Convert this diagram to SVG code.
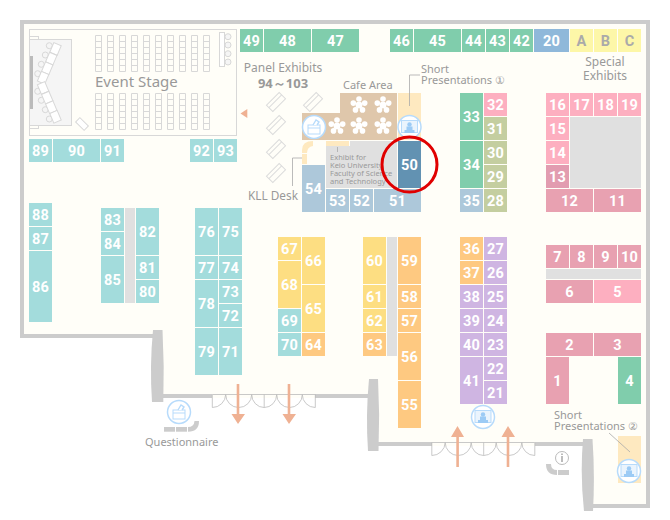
<svg xmlns="http://www.w3.org/2000/svg" width="670" height="520" viewBox="0 0 670 520">
<defs>
<style>
.b text{font:700 14.500px Roboto,"Liberation Sans",sans-serif;fill:#fff;text-anchor:middle;letter-spacing:.2px}
.l{font:11px "Noto Sans","Open Sans",sans-serif;fill:#999}
.teal{fill:#a3dcdc}.green{fill:#80cdac}.slate{fill:#adc8da}.yel{fill:#fdde82}.org{fill:#fec981}.pur{fill:#cfb5e2}.pink{fill:#fdafc0}.rose{fill:#e8a1b1}.oli{fill:#c4cea0}.blue{fill:#8fb8da}.lem{fill:#fdf7a8}.dark{fill:#6292b2}.drose{fill:#e29cb0}
.g{fill:#e0e0e0}.w{fill:#ccc}.bei{fill:#fee9c0}.cafe{fill:#dfc7ab}
.st{fill:none;stroke:#d8d8d8;stroke-width:1}
.door{fill:none;stroke:#bbb;stroke-width:.8}
.ln{fill:none;stroke:#aaa;stroke-width:.8}
.arr{fill:#efb193}
</style>
<g id="doors">
<path class="door" d="M212.300 394.500H315.300M212.300 394.500V407.500A13.400 13.400 0 0 0 225.700 394.500A13 13 0 0 0 251.700 394.500A12.500 13 0 0 0 264.200 407.500V394.500M264.200 407.500A12.500 13 0 0 0 276.700 394.500A12.800 13 0 0 0 302.300 394.500A13 13 0 0 0 315.300 407.500V394.500"/>
</g>
<g id="pres">
<circle r="11.500" fill="#fff" stroke="#b7dbfb" stroke-width="1.500"/>
<rect x="-8" y="-6.500" width="16" height="12" fill="#eaf4fd" stroke="#b7dbfb"/>
<circle cy="-2.500" r="2.200" fill="#9ccbf5"/>
<path d="M-3-.5H3V3H5V6H-5V3H-3Z" fill="#9ccbf5"/>
</g>
<g id="box">
<circle r="11.500" fill="#fff" stroke="#b7dbfb" stroke-width="1.500"/>
<rect x="-6" y="-2" width="12" height="9" fill="#fff" stroke="#b7dbfb"/>
<path d="M-6 1H6" stroke="#b7dbfb"/>
<path d="M-1-2 2-7 5-5 3-2" fill="#fff" stroke="#b7dbfb" stroke-width="1.400"/>
</g>
<g id="star" fill="#fff">
<circle r="3.500"/><circle cy="-6" r="2.800"/><circle cx="5.700" cy="-1.900" r="2.800"/><circle cx="3.500" cy="4.900" r="2.800"/><circle cx="-3.500" cy="4.900" r="2.800"/><circle cx="-5.700" cy="-1.900" r="2.800"/>
</g>
<g id="tile" transform="rotate(-45)" fill="#fffef8" stroke="#dcdcdc">
<rect x="-9" y="-4.500" width="18" height="9"/><path d="M-9-1H9" fill="none"/>
</g>
<path id="seats" fill="none" stroke="#d8d8d8" d="M.5.5h6v36h-6zM.5 6.500h6M.5 12.500h6M.5 18.500h6M.5 24.500h6M.5 30.500h6"/>
<g id="col"><use href="#seats" y="35"/><use href="#seats" y="93"/></g>
</defs>

<rect width="670" height="520" fill="#fff"/>
<g id="floor">
<path d="M20 20H650V508H593V446H379V398H163V338H20Z" fill="#fffef8"/>
<path class="w" d="M20 20H650V508H590V504H646V24H24V334H155V338H20Z"/>
<rect class="w" x="160" y="394" width="52" height="4"/>
<rect class="w" x="315" y="394" width="56" height="4"/>
<rect class="w" x="376" y="442" width="56" height="4"/>
<rect class="w" x="535" y="442" width="49" height="4"/>
<path class="w" d="M153 330H162.500Q164.500 366 163.300 402H152Q149.500 366 153 330Z"/>
<path class="w" d="M369 379H378Q380 415 378.500 451H368Q365.500 415 369 379Z"/>
<path class="w" d="M583 439H592.500Q595 475 593 511H584Q580 475 583 439Z"/>
<use href="#doors"/>
<use href="#doors" transform="translate(219.500 48)"/>
</g>

<g id="event-stage">
<rect x="29.500" y="29.500" width="207" height="106" class="st"/>
<rect x="29.500" y="39.500" width="42" height="86" fill="#f5f5f5" stroke="#d8d8d8"/>
<rect x="29.500" y="36.500" width="9" height="3" class="st"/>
<rect x="29.500" y="125.500" width="9" height="3" class="st"/>
<rect x="30" y="56" width="3" height="53" fill="#bbb"/>
<g fill="#f5f5f5" stroke="#d8d8d8">
<circle cx="49.300" cy="45.700" r="3"/><circle cx="45.300" cy="55" r="3"/><circle cx="41.300" cy="64.300" r="3"/><circle cx="37.700" cy="73.700" r="3"/>
<circle cx="37.700" cy="91.300" r="3"/><circle cx="41.300" cy="100.300" r="3"/><circle cx="45.300" cy="109.700" r="3"/><circle cx="49.300" cy="119" r="3"/>
<circle cx="228" cy="36.700" r="3"/><circle cx="228" cy="45" r="3"/><circle cx="228" cy="53.700" r="3"/><circle cx="228" cy="62" r="3"/>
</g>
<g fill="#fff" stroke="#d8d8d8">
<rect x="-4" y="-5.200" width="8" height="10.400" transform="translate(55.500 49) rotate(23)"/>
<rect x="-4" y="-5.200" width="8" height="10.400" transform="translate(51.300 58.600) rotate(23)"/>
<rect x="-4" y="-5.200" width="8" height="10.400" transform="translate(47.200 68.200) rotate(23)"/>
<rect x="-4" y="-5.200" width="8" height="10.400" transform="translate(43.100 77.800) rotate(23)"/>
<rect x="-4" y="-5.200" width="8" height="10.400" transform="translate(43.100 88) rotate(-23)"/>
<rect x="-4" y="-5.200" width="8" height="10.400" transform="translate(47.200 97.600) rotate(-23)"/>
<rect x="-4" y="-5.200" width="8" height="10.400" transform="translate(51.300 107.200) rotate(-23)"/>
<rect x="-4" y="-5.200" width="8" height="10.400" transform="translate(55.500 116.800) rotate(-23)"/>
<rect x="219.500" y="32.500" width="5" height="34"/>
<rect x="-6" y="-3" width="12" height="6" transform="translate(82 124) rotate(45)"/>
</g>
<use href="#col" x="95"/><use href="#col" x="107"/><use href="#col" x="119"/><use href="#col" x="131"/><use href="#col" x="143"/><use href="#col" x="155"/><use href="#col" x="167"/><use href="#col" x="179"/><use href="#col" x="191"/><use href="#col" x="203"/>
<text class="l" x="95" y="87" style="font-size:15px">Event Stage</text>
</g>

<g id="areas">
<rect class="g" x="125" y="208" width="10" height="95"/>
<rect class="g" x="387" y="237" width="10" height="119"/>
<rect class="g" x="570" y="117" width="71" height="71"/>
<rect class="g" x="546" y="269" width="95" height="10"/>
<path class="g" d="M326 146H350V141H397V188H326Z"/>
<path id="cafe" class="cafe" d="M340 93H397V140H302V113H340Z"/>
<rect class="bei" x="398" y="93" width="23" height="47"/>
<rect class="bei" x="326" y="141" width="23" height="5"/>
<path class="bei" d="M302 153V150Q302 141 313 141V146Q307 147 307 153ZM302 154H307V164H302Z"/>
<rect class="bei" x="618" y="436" width="23" height="47"/>
<use href="#star" x="359" y="105"/><use href="#star" x="383" y="105"/>
<use href="#star" x="337" y="126"/><use href="#star" x="359" y="126"/><use href="#star" x="383" y="126"/>
<use href="#box" x="314" y="127"/><use href="#pres" x="409.500" y="127"/>
<use href="#pres" x="483" y="417"/><use href="#pres" x="629" y="471"/>
<use href="#box" x="179" y="412"/>
<use href="#tile" x="276" y="102"/><use href="#tile" x="313" y="102"/><use href="#tile" x="276" y="125"/><use href="#tile" x="276" y="149"/><use href="#tile" x="276" y="173"/>
<path class="arr" d="M240.500 113.500 247.300 109V118Z"/>
<g class="w">
<rect x="164" y="427" width="11" height="4.700"/><rect x="176" y="427" width="11" height="4.700"/>
<path d="M188 431.700V427Q194 427 194.500 421H199Q199 431.700 188 431.700Z"/>
<rect x="558" y="470" width="11" height="5"/>
<path d="M557 475V470Q551 470 551 464H546Q546 475 557 475Z"/>
</g>
<circle cx="562" cy="458" r="6.500" fill="#fff" stroke="#bbb"/>
<path d="M562 456V462M562 453.500V455" stroke="#999" stroke-width="1.300"/>
</g>

<g id="connectors">
<path class="ln" d="M420 75H409.500V106"/>
<path class="ln" d="M302 158H292.500V186"/>
<path class="ln" d="M337.500 147V152"/>
<path class="ln" d="M609 433 630 452"/>
<path class="arr" d="M236.700 384H239.300V414H245L238 424 231.500 414H236.700Z"/>
<path class="arr" d="M287.700 384H290.300V414H296L289 424 282.500 414H287.700Z"/>
<path class="arr" d="M456.300 467H458.900V437H464L457.500 426 451 437H456.300Z"/>
<path class="arr" d="M506.700 467H509.300V437H515L508 426 501.500 437H506.700Z"/>
</g>

<g id="labels">
<text class="l" x="283" y="72" text-anchor="middle" style="font-size:12px">Panel Exhibits</text>
<text class="l" x="283" y="88" text-anchor="middle" style="font-size:13px;font-weight:700">94～103</text>
<text class="l" x="343" y="89">Cafe Area</text>
<text class="l" x="421" y="73">Short</text>
<text class="l" x="421" y="84">Presentations ①</text>
<text class="l" x="605" y="66" text-anchor="middle" style="font-size:12px">Special</text>
<text class="l" x="605" y="80" text-anchor="middle" style="font-size:12px">Exhibits</text>
<text class="l" x="248" y="200" style="font-size:11.800px">KLL Desk</text>
<text class="l" x="145" y="446">Questionnaire</text>
<text class="l" x="554" y="419">Short</text>
<text class="l" x="554" y="430">Presentations ②</text>
<g class="l" style="font-size:7.500px">
<text x="330" y="160">Exhibit for</text>
<text x="330" y="168">Keio University</text>
<text x="330" y="176">Faculty of Science</text>
<text x="330" y="184">and Technology</text>
</g>
</g>

<g id="n49" class="b"><rect class="green" x="240" y="29" width="23" height="23"/><text x="251.500" y="46">49</text></g>
<g id="n48" class="b"><rect class="green" x="264" y="29" width="47" height="23"/><text x="287.500" y="46">48</text></g>
<g id="n47" class="b"><rect class="green" x="312" y="29" width="47" height="23"/><text x="335.500" y="46">47</text></g>
<g id="n46" class="b"><rect class="green" x="390" y="29" width="23" height="23"/><text x="401.500" y="46">46</text></g>
<g id="n45" class="b"><rect class="green" x="414" y="29" width="47" height="23"/><text x="437.500" y="46">45</text></g>
<g id="n44" class="b"><rect class="green" x="462" y="29" width="23" height="23"/><text x="473.500" y="46">44</text></g>
<g id="n43" class="b"><rect class="green" x="486" y="29" width="23" height="23"/><text x="497.500" y="46">43</text></g>
<g id="n42" class="b"><rect class="green" x="510" y="29" width="23" height="23"/><text x="521.500" y="46">42</text></g>
<g id="n20" class="b"><rect class="blue" x="534" y="29" width="35" height="23"/><text x="551.500" y="46">20</text></g>
<g id="nA" class="b"><rect class="lem" x="570" y="29" width="23" height="23"/><text x="581.500" y="46" style="fill:#aaa">A</text></g>
<g id="nB" class="b"><rect class="lem" x="594" y="29" width="23" height="23"/><text x="605.500" y="46" style="fill:#aaa">B</text></g>
<g id="nC" class="b"><rect class="lem" x="618" y="29" width="23" height="23"/><text x="629.500" y="46" style="fill:#aaa">C</text></g>
<g id="n89" class="b"><rect class="teal" x="29" y="139" width="23" height="23"/><text x="40.500" y="156">89</text></g>
<g id="n90" class="b"><rect class="teal" x="53" y="139" width="47" height="23"/><text x="76.500" y="156">90</text></g>
<g id="n91" class="b"><rect class="teal" x="101" y="139" width="23" height="23"/><text x="112.500" y="156">91</text></g>
<g id="n92" class="b"><rect class="teal" x="190" y="139" width="23" height="23"/><text x="201.500" y="156">92</text></g>
<g id="n93" class="b"><rect class="teal" x="214" y="139" width="23" height="23"/><text x="225.500" y="156">93</text></g>
<g id="n88" class="b"><rect class="teal" x="29" y="203" width="23" height="23"/><text x="40.500" y="220">88</text></g>
<g id="n87" class="b"><rect class="teal" x="29" y="227" width="23" height="23"/><text x="40.500" y="244">87</text></g>
<g id="n86" class="b"><rect class="teal" x="29" y="251" width="23" height="71"/><text x="40.500" y="292">86</text></g>
<g id="n83" class="b"><rect class="teal" x="101" y="208" width="23" height="23"/><text x="112.500" y="225">83</text></g>
<g id="n84" class="b"><rect class="teal" x="101" y="232" width="23" height="23"/><text x="112.500" y="249">84</text></g>
<g id="n85" class="b"><rect class="teal" x="101" y="256" width="23" height="47"/><text x="112.500" y="285">85</text></g>
<g id="n82" class="b"><rect class="teal" x="136" y="208" width="23" height="47"/><text x="147.500" y="237">82</text></g>
<g id="n81" class="b"><rect class="teal" x="136" y="256" width="23" height="23"/><text x="147.500" y="273">81</text></g>
<g id="n80" class="b"><rect class="teal" x="136" y="280" width="23" height="23"/><text x="147.500" y="297">80</text></g>
<g id="n76" class="b"><rect class="teal" x="195" y="208" width="23" height="47"/><text x="206.500" y="237">76</text></g>
<g id="n75" class="b"><rect class="teal" x="219" y="208" width="23" height="47"/><text x="230.500" y="237">75</text></g>
<g id="n77" class="b"><rect class="teal" x="195" y="256" width="23" height="23"/><text x="206.500" y="273">77</text></g>
<g id="n74" class="b"><rect class="teal" x="219" y="256" width="23" height="23"/><text x="230.500" y="273">74</text></g>
<g id="n78" class="b"><rect class="teal" x="195" y="280" width="23" height="47"/><text x="206.500" y="309">78</text></g>
<g id="n73" class="b"><rect class="teal" x="219" y="280" width="23" height="23"/><text x="230.500" y="297">73</text></g>
<g id="n72" class="b"><rect class="teal" x="219" y="304" width="23" height="23"/><text x="230.500" y="321">72</text></g>
<g id="n79" class="b"><rect class="teal" x="195" y="328" width="23" height="47"/><text x="206.500" y="357">79</text></g>
<g id="n71" class="b"><rect class="teal" x="219" y="328" width="23" height="47"/><text x="230.500" y="357">71</text></g>
<g id="n67" class="b"><rect class="yel" x="278" y="237" width="23" height="23"/><text x="289.500" y="254">67</text></g>
<g id="n66" class="b"><rect class="yel" x="302" y="237" width="23" height="47"/><text x="313.500" y="266">66</text></g>
<g id="n68" class="b"><rect class="yel" x="278" y="261" width="23" height="47"/><text x="289.500" y="290">68</text></g>
<g id="n65" class="b"><rect class="yel" x="302" y="285" width="23" height="47"/><text x="313.500" y="314">65</text></g>
<g id="n69" class="b"><rect class="teal" x="278" y="309" width="23" height="23"/><text x="289.500" y="326">69</text></g>
<g id="n70" class="b"><rect class="teal" x="278" y="333" width="23" height="23"/><text x="289.500" y="350">70</text></g>
<g id="n64" class="b"><rect class="org" x="302" y="333" width="23" height="23"/><text x="313.500" y="350">64</text></g>
<g id="n60" class="b"><rect class="yel" x="363" y="237" width="23" height="47"/><text x="374.500" y="266">60</text></g>
<g id="n61" class="b"><rect class="yel" x="363" y="285" width="23" height="23"/><text x="374.500" y="302">61</text></g>
<g id="n62" class="b"><rect class="yel" x="363" y="309" width="23" height="23"/><text x="374.500" y="326">62</text></g>
<g id="n63" class="b"><rect class="org" x="363" y="333" width="23" height="23"/><text x="374.500" y="350">63</text></g>
<g id="n59" class="b"><rect class="org" x="398" y="237" width="23" height="47"/><text x="409.500" y="266">59</text></g>
<g id="n58" class="b"><rect class="org" x="398" y="285" width="23" height="23"/><text x="409.500" y="302">58</text></g>
<g id="n57" class="b"><rect class="org" x="398" y="309" width="23" height="23"/><text x="409.500" y="326">57</text></g>
<g id="n56" class="b"><rect class="org" x="398" y="333" width="23" height="47"/><text x="409.500" y="362">56</text></g>
<g id="n55" class="b"><rect class="org" x="398" y="381" width="23" height="47"/><text x="409.500" y="410">55</text></g>
<g id="n36" class="b"><rect class="org" x="460" y="237" width="23" height="23"/><text x="471.500" y="254">36</text></g>
<g id="n27" class="b"><rect class="pur" x="484" y="237" width="23" height="23"/><text x="495.500" y="254">27</text></g>
<g id="n37" class="b"><rect class="org" x="460" y="261" width="23" height="23"/><text x="471.500" y="278">37</text></g>
<g id="n26" class="b"><rect class="pur" x="484" y="261" width="23" height="23"/><text x="495.500" y="278">26</text></g>
<g id="n38" class="b"><rect class="pur" x="460" y="285" width="23" height="23"/><text x="471.500" y="302">38</text></g>
<g id="n25" class="b"><rect class="pur" x="484" y="285" width="23" height="23"/><text x="495.500" y="302">25</text></g>
<g id="n39" class="b"><rect class="pur" x="460" y="309" width="23" height="23"/><text x="471.500" y="326">39</text></g>
<g id="n24" class="b"><rect class="pur" x="484" y="309" width="23" height="23"/><text x="495.500" y="326">24</text></g>
<g id="n40" class="b"><rect class="pur" x="460" y="333" width="23" height="23"/><text x="471.500" y="350">40</text></g>
<g id="n23" class="b"><rect class="pur" x="484" y="333" width="23" height="23"/><text x="495.500" y="350">23</text></g>
<g id="n41" class="b"><rect class="pur" x="460" y="357" width="23" height="47"/><text x="471.500" y="386">41</text></g>
<g id="n22" class="b"><rect class="pur" x="484" y="357" width="23" height="23"/><text x="495.500" y="374">22</text></g>
<g id="n21" class="b"><rect class="pur" x="484" y="381" width="23" height="23"/><text x="495.500" y="398">21</text></g>
<g id="n33" class="b"><rect class="green" x="460" y="93" width="23" height="47"/><text x="471.500" y="122">33</text></g>
<g id="n32" class="b"><rect class="pink" x="484" y="93" width="23" height="23"/><text x="495.500" y="110">32</text></g>
<g id="n31" class="b"><rect class="oli" x="484" y="117" width="23" height="23"/><text x="495.500" y="134">31</text></g>
<g id="n34" class="b"><rect class="green" x="460" y="141" width="23" height="47"/><text x="471.500" y="170">34</text></g>
<g id="n30" class="b"><rect class="oli" x="484" y="141" width="23" height="23"/><text x="495.500" y="158">30</text></g>
<g id="n29" class="b"><rect class="oli" x="484" y="165" width="23" height="23"/><text x="495.500" y="182">29</text></g>
<g id="n35" class="b"><rect class="slate" x="460" y="189" width="23" height="23"/><text x="471.500" y="206">35</text></g>
<g id="n28" class="b"><rect class="oli" x="484" y="189" width="23" height="23"/><text x="495.500" y="206">28</text></g>
<g id="n16" class="b"><rect class="pink" x="546" y="93" width="23" height="23"/><text x="557.500" y="110">16</text></g>
<g id="n17" class="b"><rect class="pink" x="570" y="93" width="23" height="23"/><text x="581.500" y="110">17</text></g>
<g id="n18" class="b"><rect class="pink" x="594" y="93" width="23" height="23"/><text x="605.500" y="110">18</text></g>
<g id="n19" class="b"><rect class="pink" x="618" y="93" width="23" height="23"/><text x="629.500" y="110">19</text></g>
<g id="n15" class="b"><rect class="pink" x="546" y="117" width="23" height="23"/><text x="557.500" y="134">15</text></g>
<g id="n14" class="b"><rect class="pink" x="546" y="141" width="23" height="23"/><text x="557.500" y="158">14</text></g>
<g id="n13" class="b"><rect class="drose" x="546" y="165" width="23" height="23"/><text x="557.500" y="182">13</text></g>
<g id="n12" class="b"><rect class="rose" x="546" y="189" width="47" height="23"/><text x="569.500" y="206">12</text></g>
<g id="n11" class="b"><rect class="rose" x="594" y="189" width="47" height="23"/><text x="617.500" y="206">11</text></g>
<g id="n7" class="b"><rect class="rose" x="546" y="245" width="23" height="23"/><text x="557.500" y="262">7</text></g>
<g id="n8" class="b"><rect class="rose" x="570" y="245" width="23" height="23"/><text x="581.500" y="262">8</text></g>
<g id="n9" class="b"><rect class="rose" x="594" y="245" width="23" height="23"/><text x="605.500" y="262">9</text></g>
<g id="n10" class="b"><rect class="rose" x="618" y="245" width="23" height="23"/><text x="629.500" y="262">10</text></g>
<g id="n6" class="b"><rect class="rose" x="546" y="280" width="47" height="23"/><text x="569.500" y="297">6</text></g>
<g id="n5" class="b"><rect class="pink" x="594" y="280" width="47" height="23"/><text x="617.500" y="297">5</text></g>
<g id="n2" class="b"><rect class="rose" x="546" y="333" width="47" height="23"/><text x="569.500" y="350">2</text></g>
<g id="n3" class="b"><rect class="rose" x="594" y="333" width="47" height="23"/><text x="617.500" y="350">3</text></g>
<g id="n1" class="b"><rect class="rose" x="546" y="357" width="23" height="47"/><text x="557.500" y="386">1</text></g>
<g id="n4" class="b"><rect class="green" x="618" y="357" width="23" height="47"/><text x="629.500" y="386">4</text></g>
<g id="n54" class="b"><rect class="slate" x="302" y="165" width="23" height="47"/><text x="313.500" y="194">54</text></g>
<g id="n53" class="b"><rect class="slate" x="326" y="189" width="23" height="23"/><text x="337.500" y="206">53</text></g>
<g id="n52" class="b"><rect class="slate" x="350" y="189" width="23" height="23"/><text x="361.500" y="206">52</text></g>
<g id="n51" class="b"><rect class="slate" x="374" y="189" width="47" height="23"/><text x="397.500" y="206">51</text></g>
<g id="n50" class="b"><rect class="dark" x="398" y="141" width="23" height="47"/><text x="409.500" y="170">50</text></g>

<circle id="highlight" cx="409.500" cy="164.500" r="27.500" fill="none" stroke="#e00000" stroke-width="3"/>
</svg>
